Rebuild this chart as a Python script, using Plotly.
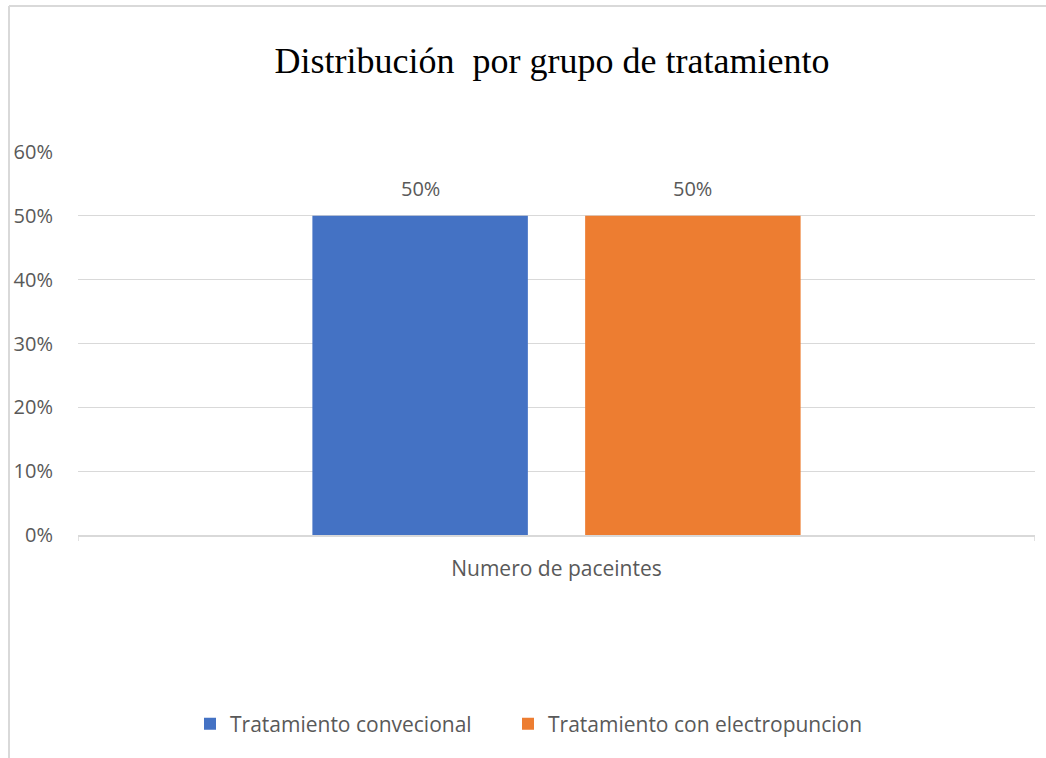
import plotly.graph_objects as go

# Chart data
categoria = ["Numero de paceintes"]
series = ["Tratamiento convecional", "Tratamiento con electropuncion"]
valores = [[0.50], [0.50]]
colores = ["#4472C4", "#ED7D31"]

y_ticks = [0, 0.1, 0.2, 0.3, 0.4, 0.5, 0.6]

W, H = 1046, 758
M_L, M_R, M_T, M_B = 78, 11, 152, 223
plot_w = W - M_L - M_R
plot_h = H - M_T - M_B

BARGAP = 0.43
BARGROUPGAP = 0.21
TXT = "#595959"
FONT = "Open Sans"


def px_x(px):
    return (px - M_L) / plot_w


def px_y(py):
    return (H - M_B - py) / plot_h


# Left edge of each legend entry
legend_left = [190, 508]
legend_ids = ["legend", "legend2"]

fig = go.Figure()
for nombre, vals, color, lid in zip(series, valores, colores, legend_ids):
    fig.add_trace(go.Bar(
        x=categoria,
        y=vals,
        name=nombre,
        legend=lid,
        marker=dict(color=color, line=dict(width=0)),
    ))

# Value labels above each bar, centred on the bar's slot within the group
slot = (1 - BARGAP) / len(series)
annotations = []
for i, vals in enumerate(valores):
    for j, v in enumerate(vals):
        xc = j - (1 - BARGAP) / 2 + slot * (i + 0.5)
        annotations.append(dict(
            x=xc, y=v, xref="x", yref="y",
            text=f"{v:.0%}", showarrow=False,
            yanchor="bottom", yshift=12,
            font=dict(family=FONT, size=20, color=TXT),
        ))

grey_line = "#d9d9d9"

# Outer chart frame (left and top edges)
shapes = [
    dict(type="line", xref="paper", yref="paper",
         x0=px_x(9), x1=px_x(W + 5), y0=px_y(6), y1=px_y(6),
         line=dict(color=grey_line, width=2)),
    dict(type="line", xref="paper", yref="paper",
         x0=px_x(9), x1=px_x(9), y0=px_y(6), y1=px_y(H + 5),
         line=dict(color=grey_line, width=2)),
]
# Category boundary ticks on the horizontal axis
for xv in (-0.5, 0.5):
    shapes.append(dict(type="line", xref="x", yref="paper",
                       x0=xv, x1=xv, y0=0, y1=px_y(H - M_B + 6),
                       line=dict(color=grey_line, width=1.5)))

legend_style = dict(
    orientation="h",
    xanchor="left",
    y=px_y(724), yanchor="middle",
    font=dict(family=FONT, size=21, color=TXT),
    itemwidth=30,
    bgcolor="rgba(0,0,0,0)",
)

fig.update_layout(
    width=W, height=H,
    margin=dict(l=M_L, r=M_R, t=M_T, b=M_B, pad=0),
    paper_bgcolor="white",
    plot_bgcolor="white",
    barmode="group",
    bargap=BARGAP,
    bargroupgap=BARGROUPGAP,
    title=dict(
        text="Distribución  por grupo de tratamiento",
        font=dict(family="Liberation Serif", size=36, color="#000000"),
        x=px_x(552), xanchor="center", xref="paper",
        y=1 - 60 / H, yanchor="middle",
    ),
    font=dict(family=FONT, color=TXT),
    xaxis=dict(
        showgrid=False,
        showline=True, linecolor=grey_line, linewidth=1.5,
        ticks="",
        tickfont=dict(family=FONT, size=21, color=TXT),
        ticklabelstandoff=14,
        range=[-0.5, 0.5],
    ),
    yaxis=dict(
        range=[0, 0.6],
        tickvals=y_ticks,
        tickformat=".0%",
        showgrid=True, gridcolor=grey_line, gridwidth=1,
        zeroline=False,
        showline=False,
        ticks="",
        tickfont=dict(family=FONT, size=20, color=TXT),
        ticklabelstandoff=24,
    ),
    legend=dict(x=px_x(legend_left[0]), **legend_style),
    legend2=dict(x=px_x(legend_left[1]), **legend_style),
    annotations=annotations,
    shapes=shapes,
    showlegend=True,
)

fig.write_html("out.html")
